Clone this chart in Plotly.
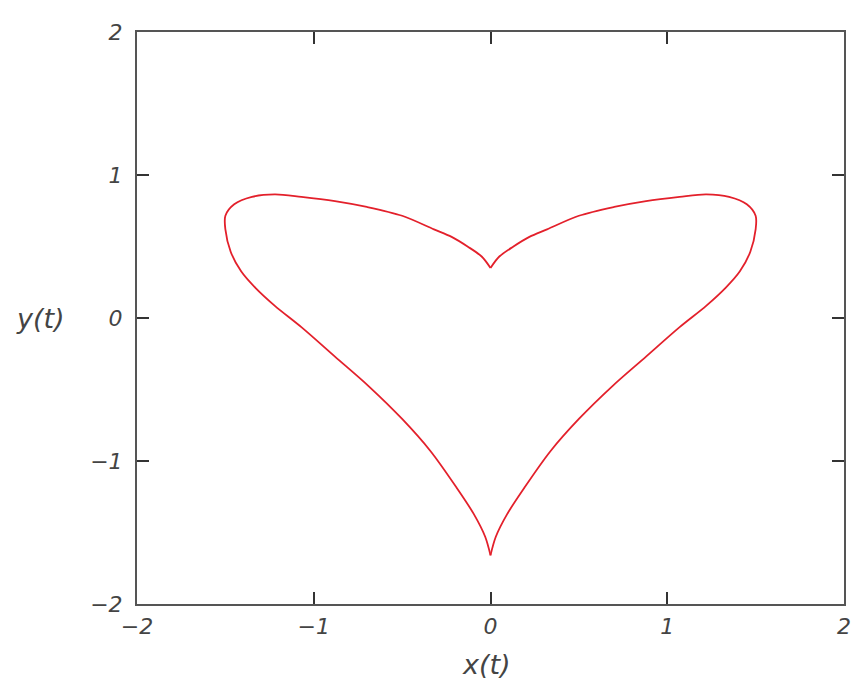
import plotly.graph_objects as go

# Points (right half from top cusp to bottom cusp)
x_right = [0.0, 0.05, 0.13, 0.22, 0.32, 0.50, 0.70, 0.88, 1.07, 1.22, 1.35, 1.45, 1.50, 1.50,
           1.47, 1.41, 1.33, 1.22, 1.07, 0.88, 0.69, 0.50, 0.34, 0.19, 0.095, 0.03, 0.0]
y_right = [0.35, 0.43, 0.50, 0.567, 0.62, 0.715, 0.777, 0.818, 0.847, 0.864, 0.847, 0.795, 0.715, 0.62,
           0.463, 0.325, 0.211, 0.085, -0.064, -0.27, -0.476, -0.706, -0.93, -1.19, -1.37, -1.53, -1.66]
# Left half (bottom cusp back up to top cusp)
x_left = [0.0, -0.03, -0.095, -0.19, -0.34, -0.50, -0.69, -0.88, -1.07, -1.22, -1.33, -1.41, -1.47,
          -1.50, -1.50, -1.45, -1.35, -1.22, -1.07, -0.88, -0.70, -0.50, -0.32, -0.22, -0.13, -0.05, 0.0]
y_left = [-1.66, -1.53, -1.37, -1.19, -0.93, -0.706, -0.476, -0.27, -0.064, 0.085, 0.211, 0.325, 0.463,
          0.62, 0.715, 0.795, 0.847, 0.864, 0.847, 0.818, 0.777, 0.715, 0.62, 0.567, 0.50, 0.43, 0.35]

tick_vals = [-2, -1, 0, 1, 2]
tick_text = ["\u22122", "\u22121", "0", "1", "2"]

fig = go.Figure()
for xs, ys in ((x_right, y_right), (x_left, y_left)):
    fig.add_trace(go.Scatter(x=xs, y=ys, mode="lines",
                             line=dict(color="#e3202b", width=1.8, shape="spline", smoothing=0.9),
                             hoverinfo="skip"))

font = dict(family="DejaVu Sans, Verdana, sans-serif", size=22, color="#444444", style="italic")
title_font = dict(family="DejaVu Sans, Verdana, sans-serif", size=27, color="#444444", style="italic")
axis_common = dict(range=[-2, 2], tickvals=tick_vals, ticktext=tick_text, ticks="inside", ticklen=12,
                   tickcolor="#333", tickwidth=1.5, showline=True, linecolor="#555", linewidth=2,
                   mirror="ticks", showgrid=False, zeroline=False, tickfont=font)

fig.update_layout(
    width=859, height=685,
    margin=dict(l=129, r=23, t=16, b=89),
    paper_bgcolor="white", plot_bgcolor="white",
    showlegend=False,
    xaxis=dict(**axis_common, ticklabelstandoff=2),
    yaxis=dict(**axis_common, ticklabelstandoff=8),
    annotations=[
        dict(text="x(t)", x=0.495, y=-0.105, xref="paper", yref="paper", showarrow=False,
             font=title_font, xanchor="center", yanchor="middle"),
        dict(text="y(t)", x=-0.137, y=0, xref="paper", yref="y", showarrow=False,
             font=title_font, xanchor="center", yanchor="middle"),
    ],
)
fig.write_html("out.html")
